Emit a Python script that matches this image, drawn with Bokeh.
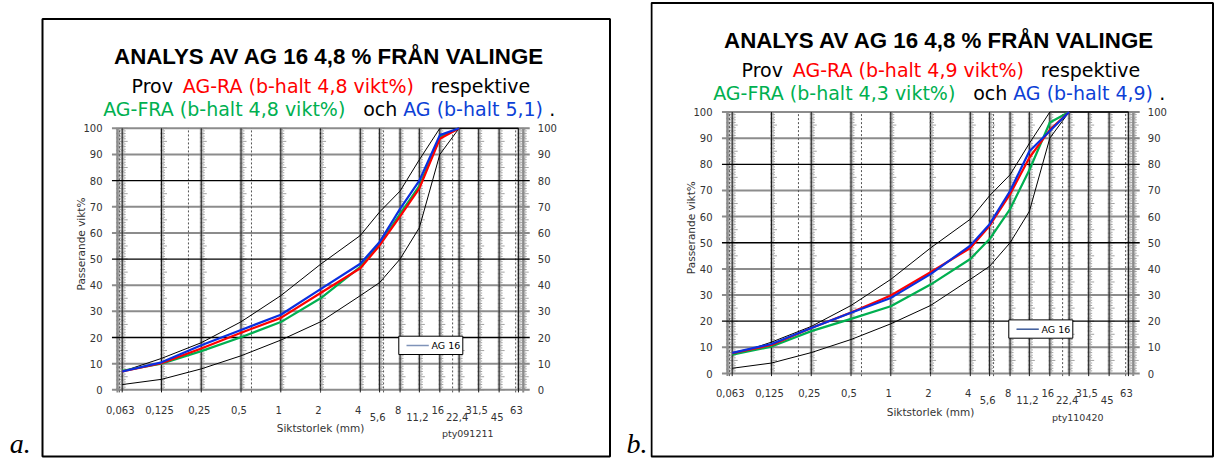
import numpy as np
from bokeh.plotting import figure
from bokeh.models import Range1d, ColumnDataSource
from bokeh.layouts import row
from bokeh.embed import file_html
from bokeh.resources import INLINE
from bokeh.core.properties import value

# ------------------------------------------------------------------ data
sieve_sizes = [0.063, 0.125, 0.25, 0.5, 1, 2, 4, 5.6, 8, 11.2, 16, 22.4, 31.5, 45, 63]
sieve_labels = ["0,063", "0,125", "0,25", "0,5", "1", "2", "4", "5,6", "8",
                "11,2", "16", "22,4", "31,5", "45", "63"]
low_row_sizes = [5.6, 11.2, 22.4, 45]          # labels printed a little lower
fraction_bounds = [0.06, 0.2, 0.6, 2, 6, 20, 60]  # dashed lines
y_ticks = [0, 10, 20, 30, 40, 50, 60, 70, 80, 90, 100]
dark_grid = [20, 50, 80]
x_limits = [0.058, 68.5]

# AG 16 limit curves (passing %)
lower_limit = [2, 4, 8, 13, 19, 26, 36, 41, 50, 62, 90, 100, 100, 100, 100]
upper_limit = [7, 12, 18, 26, 36, 48, 59, 68, 76, 88, 100, 100, 100, 100, 100]

sample_sizes = [0.063, 0.125, 0.25, 0.5, 1, 2, 4, 5.6, 8, 11.2, 16, 22.4]
a_ag_ra = [7.0, 10.2, 15.8, 21.8, 27.5, 37.0, 46.5, 55.2, 66.3, 77.0, 96.0, 100]
a_ag_fra = [7.3, 10.0, 14.8, 20.1, 25.9, 35.0, 47.0, 55.8, 67.3, 78.0, 96.6, 100]
a_ag = [7.0, 10.5, 17.0, 22.9, 28.7, 38.5, 48.2, 56.5, 69.2, 80.0, 97.4, 100]
b_ag_ra = [7.8, 10.9, 17.4, 23.3, 29.8, 38.7, 48.0, 56.5, 68.6, 82.5, 93.2, 100]
b_ag_fra = [7.2, 10.3, 16.2, 20.9, 25.7, 34.0, 43.8, 51.4, 62.9, 77.8, 96.0, 100]
b_ag = [7.9, 11.3, 17.4, 23.2, 28.9, 38.0, 48.9, 57.1, 69.8, 85.0, 92.7, 100]

title_text = "ANALYS AV AG 16 4,8 % FRÅN VALINGE"
a_sub1 = ["Prov", "AG-RA (b-halt 4,8 vikt%)", "respektive"]
a_sub2 = ["AG-FRA (b-halt 4,8 vikt%)", "och", "AG (b-halt 5,1)", "."]
b_sub1 = ["Prov", "AG-RA (b-halt 4,9 vikt%)", "respektive"]
b_sub2 = ["AG-FRA (b-halt 4,3 vikt%)", "och", "AG (b-halt 4,9)", "."]
legend_label = "AG 16"
x_title = "Siktstorlek (mm)"
y_title = "Passerande vikt%"
a_code = "pty091211"
b_code = "pty110420"
panel_tags = ["a.", "b."]

# ------------------------------------------------------------------ style
RED, GREEN, BLUE = "#ff0000", "#00b050", "#0a2fe0"
TXT_BLUE = "#0d3fd6"
SUB1_COLORS = ["black", RED, "black"]
SUB2_COLORS = [GREEN, "black", TXT_BLUE, "black"]
SUB1_X = [9.4, 60.6, 308.6]
SUB2_X = [-19.0, 241.0, 281.0, 427.0]
FONT = "DejaVu Sans"
K = 39.76     # px per doubling of sieve size
KY = 2.615    # px per percent
H = 459


def mid(baseline, size):
    """vertical centre of a text line from its baseline"""
    return baseline - 0.35 * size


def panel(fig_left, fig_width, box, X0, Y0, series, sub1, sub2, code, legend_col):
    def sx(px):
        return 0.063 * 2 ** ((px - X0) / K)

    def sy(py):
        return (Y0 - py) / KY

    def shift(s, px):
        return s * 2 ** (px / K)

    p = figure(width=fig_width, height=H, x_axis_type="log",
               x_axis_location=None, y_axis_location=None,
               x_range=Range1d(sx(fig_left), sx(fig_left + fig_width)),
               y_range=Range1d(sy(H), sy(0)),
               output_backend="svg", toolbar_location=None,
               min_border=0, min_border_left=0, min_border_right=0,
               min_border_top=0, min_border_bottom=0)
    p.grid.visible = False
    p.background_fill_color = "white"
    p.border_fill_color = "white"
    p.outline_line_color = None

    # outer frame of the panel
    bl, bt, br, bb = box
    p.quad(left=[sx(bl)], right=[sx(br)], top=[sy(bt)], bottom=[sy(bb)],
           fill_color=None, line_color="black", line_width=2)

    xmin, xmax = x_limits
    gx0, gx1 = shift(xmin, -5.5), shift(xmax, 6.5)

    # light horizontal grid
    light = [v for v in y_ticks if v not in dark_grid]
    p.segment(x0=[gx0] * len(light), x1=[gx1] * len(light), y0=light, y1=light,
              line_color="#8c8c8c", line_width=2)

    # rulers (small ticks along every sieve line and the edges)
    posts = sieve_sizes + x_limits
    yy = np.arange(0, 100.01, 0.5)
    rx0, rx1, ry = [], [], []
    for s in posts:
        for v in yy:
            if v % 5 == 0:
                L = 5.5
            elif v % 1 == 0:
                L = 3.5
            else:
                L = 2.2
            rx0.append(shift(s, -1.5))
            rx1.append(shift(s, L))
            ry.append(v)
    p.segment(x0=rx0, x1=rx1, y0=ry, y1=ry, line_color="#8a8a8a", line_width=0.8)

    # edge lines
    p.segment(x0=x_limits, x1=x_limits, y0=[-1, -1], y1=[100, 100],
              line_color="#8c8c8c", line_width=2)
    # sieve lines
    n = len(sieve_sizes)
    p.segment(x0=sieve_sizes, x1=sieve_sizes, y0=[-1] * n, y1=[100] * n,
              line_color="#1a1a1a", line_width=1)
    # fraction boundaries (dashed)
    m = len(fraction_bounds)
    p.segment(x0=fraction_bounds, x1=fraction_bounds, y0=[-1] * m, y1=[100] * m,
              line_color="#555555", line_width=1, line_dash="2 2")
    # dark horizontal grid
    p.segment(x0=[gx0] * len(dark_grid), x1=[gx1] * len(dark_grid), y0=dark_grid,
              y1=dark_grid, line_color="black", line_width=1.3)

    # limit curves
    p.line(sieve_sizes, lower_limit, line_color="black", line_width=1)
    p.line(sieve_sizes, upper_limit, line_color="black", line_width=1)

    # sample curves
    for vals, col in series:
        p.line(sample_sizes, vals, line_color=col, line_width=2.2)

    # legend
    p.quad(left=[sx(X0 + 276.6)], right=[sx(X0 + 340.6)], top=[sy(Y0 - 53.6)],
           bottom=[sy(Y0 - 35.3)], fill_color="white", line_color="black", line_width=1)
    p.segment(x0=[sx(X0 + 284.3)], x1=[sx(X0 + 306.6)], y0=[sy(Y0 - 44.3)],
              y1=[sy(Y0 - 44.3)], line_color=legend_col, line_width=1.5)
    p.text(x=[sx(X0 + 309.3)], y=[sy(Y0 - 44.3)], text=[legend_label],
           text_font=value(FONT), text_font_size="9.5px", text_color="black",
           text_align="left", text_baseline="middle")

    # y tick labels (left and right)
    p.text(x=[sx(X0 - 19.7)] * len(y_ticks), y=y_ticks, text=[str(v) for v in y_ticks],
           text_font=value(FONT), text_font_size="10px", text_color="#333333",
           text_align="right", text_baseline="middle")
    p.text(x=[sx(X0 + 415.6)] * len(y_ticks), y=y_ticks, text=[str(v) for v in y_ticks],
           text_font=value(FONT), text_font_size="10px", text_color="#333333",
           text_align="left", text_baseline="middle")

    # x tick labels (two staggered rows)
    xl = [shift(s, -2) for s in sieve_sizes]
    yl = [sy(mid(Y0 + (30.2 if s in low_row_sizes else 23.2), 10)) for s in sieve_sizes]
    p.text(x=xl, y=yl, text=sieve_labels, text_font=value(FONT), text_font_size="10px",
           text_color="#333333", text_align="center", text_baseline="middle")

    # axis titles and code
    p.text(x=[sx(X0 + 198.3)], y=[sy(mid(Y0 + 42.2, 10.5))], text=[x_title],
           text_font=value(FONT), text_font_size="10.5px", text_color="#333333",
           text_align="center", text_baseline="middle")
    p.text(x=[sx(X0 - 41.0)], y=[sy(Y0 - 145.8)], text=[y_title], angle=np.pi / 2,
           text_font=value(FONT), text_font_size="10.5px", text_color="#333333",
           text_align="center", text_baseline="middle")
    p.text(x=[sx(X0 + 345.5)], y=[sy(mid(Y0 + 47.2, 9.5))], text=[code],
           text_font=value(FONT), text_font_size="9.5px", text_color="#333333",
           text_align="center", text_baseline="middle")

    # title
    p.text(x=[sx(X0 + 207.2)], y=[sy(mid(Y0 - 325.3, 22.3))], text=[title_text],
           text_font=value("Liberation Sans"), text_font_style="bold",
           text_font_size="22.3px", text_color="black", text_align="center",
           text_baseline="middle")
    # coloured subtitle lines
    src = ColumnDataSource(dict(
        x=[sx(X0 + d) for d in SUB1_X] + [sx(X0 + d) for d in SUB2_X],
        y=[sy(mid(Y0 - 297.0, 19))] * len(sub1) + [sy(mid(Y0 - 274.3, 19))] * len(sub2),
        text=sub1 + sub2,
        color=SUB1_COLORS + SUB2_COLORS))
    p.text("x", "y", "text", source=src, text_color="color", text_font=value(FONT),
           text_font_size="19px", text_align="left", text_baseline="middle")
    return p, sx, sy


fa, sxa, sya = panel(0, 650, (42, 18.5, 609.5, 456), 121.7, 389.3,
                     [(a_ag_fra, GREEN), (a_ag_ra, RED), (a_ag, BLUE)],
                     a_sub1, a_sub2, a_code, "#7f93b8")
fb, sxb, syb = panel(650, 569, (651, 2.5, 1212.5, 456), 731.7, 373.0,
                     [(b_ag_fra, GREEN), (b_ag_ra, RED), (b_ag, BLUE)],
                     b_sub1, b_sub2, b_code, "#3c5a9a")

# panel letters a. / b.
fa.text(x=[sxa(9.3), sxa(626.0)], y=[sya(mid(452.5, 28))] * 2, text=panel_tags,
        text_font=value("Liberation Serif"), text_font_style="italic",
        text_font_size="28px", text_color="black", text_align="left",
        text_baseline="middle")

layout = row(fa, fb)
open("out.html", "w").write(file_html(layout, INLINE))
